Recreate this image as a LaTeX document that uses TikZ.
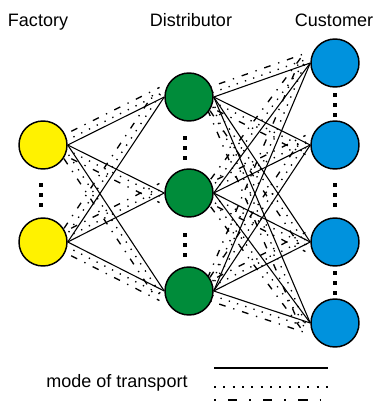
\documentclass[tikz,border=0pt]{standalone}
\usepackage{fontspec}
\setmainfont{Liberation Sans}
\usetikzlibrary{calc,backgrounds}

\definecolor{facyellow}{RGB}{255,242,0}
\definecolor{disgreen}{RGB}{0,140,58}
\definecolor{cusblue}{RGB}{0,146,221}

% three small squares as vertical ellipsis
\newcommand{\sqdots}[2]{%
  \foreach \k in {0,1,2}
    \fill (#1-2,#2+10*\k-2) rectangle ++(4,4);}

\begin{document}
\begin{tikzpicture}[
    x=0.75pt, y=-0.75pt,
    site/.style={circle, draw, line width=1.1pt, minimum size=36pt, inner sep=0pt},
    lbl/.style={font=\fontsize{13.5}{16}\selectfont, anchor=base},
    road/.style={line width=0.8pt},
    rail/.style={line width=1pt, dash pattern=on 1pt off 5.5pt},
    ship/.style={line width=1pt, dash pattern=on 1pt off 6pt on 5pt off 6pt},
]
  \useasboundingbox (0,0) rectangle (374,403);

  \node[lbl] (tfac) at (38,27)  {Factory};
  \node[lbl] (tdis) at (191,27) {Distributor};
  \node[lbl] (tcus) at (334,27) {Customer};

  \node[site, fill=facyellow] (f1) at (43,145) {};
  \node[site, fill=facyellow] (f2) at (43,242) {};

  \node[site, fill=disgreen] (d1) at (189,97)  {};
  \node[site, fill=disgreen] (d2) at (189,193) {};
  \node[site, fill=disgreen] (d3) at (189,291) {};

  \node[site, fill=cusblue] (c1) at (335,63)  {};
  \node[site, fill=cusblue] (c2) at (335,145) {};
  \node[site, fill=cusblue] (c3) at (335,242) {};
  \node[site, fill=cusblue] (c4) at (335,323) {};

  \begin{scope}[on background layer]
    \foreach \src/\dst/\ang/\gna in {f1/d1/90/-90, f1/d2/-90/90, f1/d3/-90/90,
        f2/d1/90/-90, f2/d2/90/-90, f2/d3/-90/90,
        d1/c1/90/-90, d1/c2/-90/90, d1/c3/-90/90, d1/c4/-90/90,
        d2/c1/90/-90, d2/c2/90/-90, d2/c3/-90/90, d2/c4/-90/90,
        d3/c1/90/-90, d3/c2/90/-90, d3/c3/90/-90, d3/c4/-90/90} {
      \draw[road] (\src.east) -- (\dst.west);
      \draw[rail] ($(\src.east)!3.5pt!\ang:(\dst.west)$) -- ($(\dst.west)!3.5pt!\gna:(\src.east)$);
      \draw[ship] ($(\src.east)!8pt!\ang:(\dst.west)$) -- ($(\dst.west)!8pt!\gna:(\src.east)$);
    }
  \end{scope}

  \sqdots{41}{185}
  \sqdots{185}{138}
  \sqdots{185}{235}
  \sqdots{335}{95}
  \sqdots{335}{185}
  \sqdots{335}{273}

  % legend
  \node[lbl] (tmode) at (117,387) {mode of transport};
  \draw[line width=1.5pt] (214,368) -- (328,368);
  \draw[rail, line width=1.4pt, dash pattern=on 1.4pt off 5.6pt] (214,387) -- (328,387);
  \draw[ship, line width=1.4pt, dash pattern=on 1.4pt off 9pt on 7pt off 9pt] (214,400) -- (328,400);
\end{tikzpicture}
\end{document}
